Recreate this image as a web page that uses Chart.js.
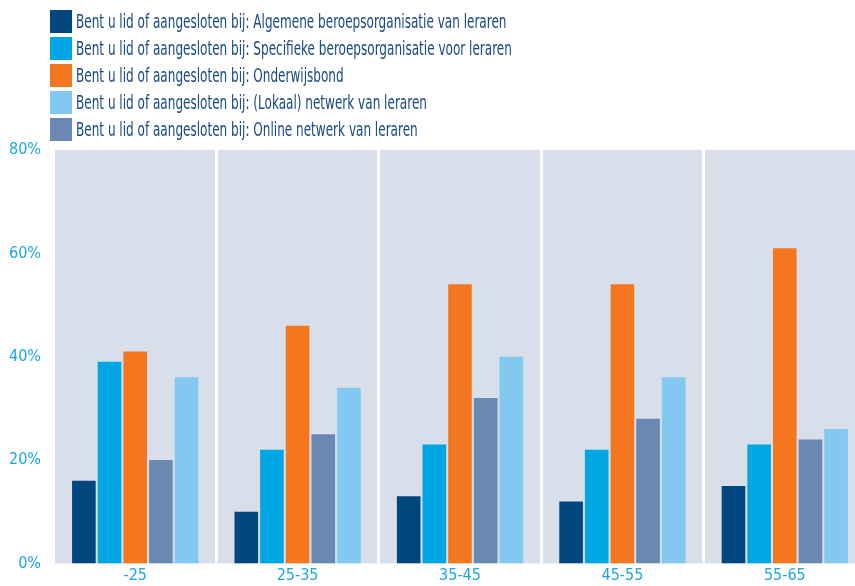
<!DOCTYPE html>
<html>
<head>
<meta charset="utf-8">
<script src="https://cdn.jsdelivr.net/npm/chart.js@4/dist/chart.umd.min.js"></script>
<style>
  html, body { margin: 0; padding: 0; background: #ffffff; }
  #wrap { position: relative; width: 855px; height: 586px; overflow: hidden; }
  #cv { position: absolute; left: 0; top: 0; }
  #legend { position: absolute; left: 50px; top: 9px; }
  .row { position: relative; height: 27px; }
  .sw { position: absolute; left: 0; top: 1px; width: 22px; height: 23px; }
  .tx { position: absolute; left: 26px; top: 0px; white-space: nowrap;
        font-family: "Liberation Sans Narrow", "DejaVu Sans Condensed", "Arial Narrow", sans-serif;
        font-size: 20px; line-height: 24px; color: #174a83;
        transform: scaleX(0.67); transform-origin: 0 50%; }
</style>
</head>
<body>
<div id="wrap">
  <canvas id="cv" width="870" height="586" style="width:870px;height:586px"></canvas>
  <div id="legend"></div>
</div>
<script>
const categories = ["-25", "25-35", "35-45", "45-55", "55-65"];
const seriesLabels = [
  "Bent u lid of aangesloten bij: Algemene beroepsorganisatie van leraren",
  "Bent u lid of aangesloten bij: Specifieke beroepsorganisatie voor leraren",
  "Bent u lid of aangesloten bij: Onderwijsbond",
  "Bent u lid of aangesloten bij: Online netwerk van leraren",
  "Bent u lid of aangesloten bij: (Lokaal) netwerk van leraren"
];
const algemene   = [16, 10, 13, 12, 15];
const specifieke = [39, 22, 23, 22, 23];
const onderwijsbond = [41, 46, 54, 54, 61];
const online     = [20, 25, 32, 28, 24];
const lokaal     = [36, 34, 40, 36, 26];
const seriesColors = ["#00467f", "#00a5e3", "#f47720", "#6a88b2", "#82c8f0"];
const legendOrder = [0, 1, 2, 4, 3];
const yTicks = [0, 20, 40, 60, 80];

const seriesValues = [algemene, specifieke, onderwijsbond, online, lokaal];

const bgPlugin = {
  id: 'plotBg',
  beforeDraw(chart) {
    const {ctx, chartArea: a} = chart;
    ctx.save();
    ctx.fillStyle = '#d8deea';
    ctx.fillRect(a.left, a.top, a.right - a.left, a.bottom - a.top);
    ctx.restore();
  }
};

const tickFont = { family: '"Liberation Sans Narrow", "DejaVu Sans Condensed", "Arial Narrow", sans-serif', size: 16 };

const chart = new Chart(document.getElementById('cv'), {
  type: 'bar',
  data: {
    labels: categories,
    datasets: seriesValues.map((vals, i) => ({
      label: seriesLabels[i],
      data: vals,
      backgroundColor: seriesColors[i],
      borderWidth: 0,
      barPercentage: 0.92,
      categoryPercentage: 0.79
    }))
  },
  options: {
    responsive: false,
    animation: false,
    layout: { padding: { top: 150, left: 0, right: 4, bottom: 0 } },
    plugins: { legend: { display: false }, tooltip: { enabled: false }, title: { display: false } },
    scales: {
      x: {
        offset: true,
        grid: { display: true, offset: true, color: '#ffffff', lineWidth: 3, drawTicks: false },
        border: { display: false },
        ticks: { color: '#1ba7e3', padding: 3, font: tickFont },
        afterFit(scale) { scale.height = 21; }
      },
      y: {
        min: 0, max: 80,
        afterBuildTicks(scale) { scale.ticks = yTicks.map(v => ({ value: v })); },
        grid: { display: false, drawTicks: false },
        border: { display: false },
        ticks: { color: '#1ba7e3', padding: 13, callback: v => v + '%', font: tickFont },
        afterFit(scale) { scale.width = 54; }
      }
    }
  },
  plugins: [bgPlugin]
});

const lg = document.getElementById('legend');
legendOrder.forEach(i => {
  const row = document.createElement('div');
  row.className = 'row';
  const sw = document.createElement('div');
  sw.className = 'sw';
  sw.style.background = chart.data.datasets[i].backgroundColor;
  const tx = document.createElement('div');
  tx.className = 'tx';
  tx.textContent = chart.data.datasets[i].label;
  row.appendChild(sw); row.appendChild(tx);
  lg.appendChild(row);
});
</script>
</body>
</html>
